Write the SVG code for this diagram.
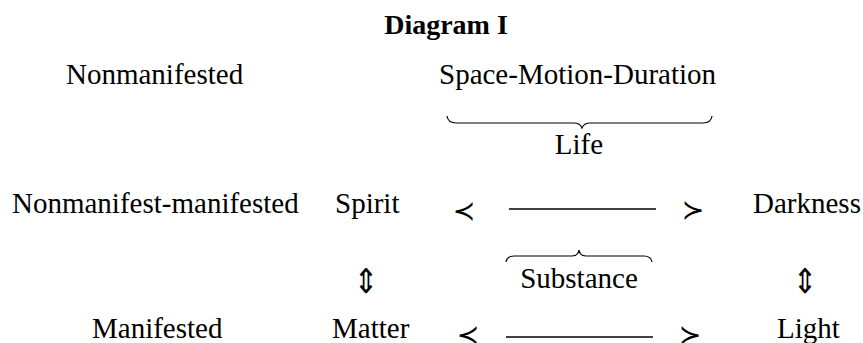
<svg xmlns="http://www.w3.org/2000/svg" width="863" height="343" viewBox="0 0 863 343">
<style>
.t{font-size:29px;fill:#000}
.h{font-size:28px;font-weight:bold;fill:#000}
.m{font-size:27px;fill:#000}
.a{font-size:34px;fill:#000}
.b{fill:none;stroke:#000;stroke-width:1.2}
.r{stroke:#000;stroke-width:1.3}
</style>
<rect width="863" height="343" fill="#fff"/>
<g id="title"><text class="h" font-family="'Liberation Serif', serif" x="446" y="34" text-anchor="middle">Diagram I</text></g>
<g id="nonmanifested"><text class="t" font-family="'Liberation Serif', serif" x="66" y="84">Nonmanifested</text></g>
<g id="smd"><text class="t" font-family="'Liberation Serif', serif" x="439" y="84">Space-Motion-Duration</text></g>
<g id="life"><text class="t" font-family="'Liberation Serif', serif" x="579" y="154" text-anchor="middle">Life</text></g>
<g id="nonmanifest-manifested"><text class="t" font-family="'Liberation Serif', serif" x="12" y="213">Nonmanifest-manifested</text></g>
<g id="spirit"><text class="t" font-family="'Liberation Serif', serif" x="335" y="213">Spirit</text></g>
<g id="darkness"><text class="t" font-family="'Liberation Serif', serif" x="753" y="213">Darkness</text></g>
<g id="substance"><text class="t" font-family="'Liberation Serif', serif" x="579" y="288" text-anchor="middle">Substance</text></g>
<g id="manifested"><text class="t" font-family="'Liberation Serif', serif" x="92" y="338">Manifested</text></g>
<g id="matter"><text class="t" font-family="'Liberation Serif', serif" x="332" y="338">Matter</text></g>
<g id="light"><text class="t" font-family="'Liberation Serif', serif" x="777" y="338">Light</text></g>
<g id="connectors">
<path class="b" d="M447,116 Q448,123 456,123 L574,123 Q580,123 582,128 Q584,123 590,123 L703,123 Q711,123 712,116"/>
<path class="b" d="M506,262 Q507,256 514,256 L572,256 Q578,256 579,250 Q580,256 586,256 L644,256 Q651,256 652,262"/>
<line class="r" x1="509" y1="209" x2="656" y2="209"/>
<line class="r" x1="506" y1="337" x2="653" y2="337"/>
<text class="m" font-family="'DejaVu Sans', sans-serif" x="464" y="219.5" text-anchor="middle">≺</text>
<text class="m" font-family="'DejaVu Sans', sans-serif" x="693" y="218.5" text-anchor="middle">≻</text>
<text class="m" font-family="'DejaVu Sans', sans-serif" x="468" y="344" text-anchor="middle">≺</text>
<text class="m" font-family="'DejaVu Sans', sans-serif" x="690" y="344" text-anchor="middle">≻</text>
<text class="a" font-family="'DejaVu Sans', sans-serif" x="366" y="293" text-anchor="middle" transform="translate(366 0) scale(0.85 1) translate(-366 0)">⇕</text>
<text class="a" font-family="'DejaVu Sans', sans-serif" x="805" y="293" text-anchor="middle" transform="translate(805 0) scale(0.85 1) translate(-805 0)">⇕</text>
</g>
</svg>
